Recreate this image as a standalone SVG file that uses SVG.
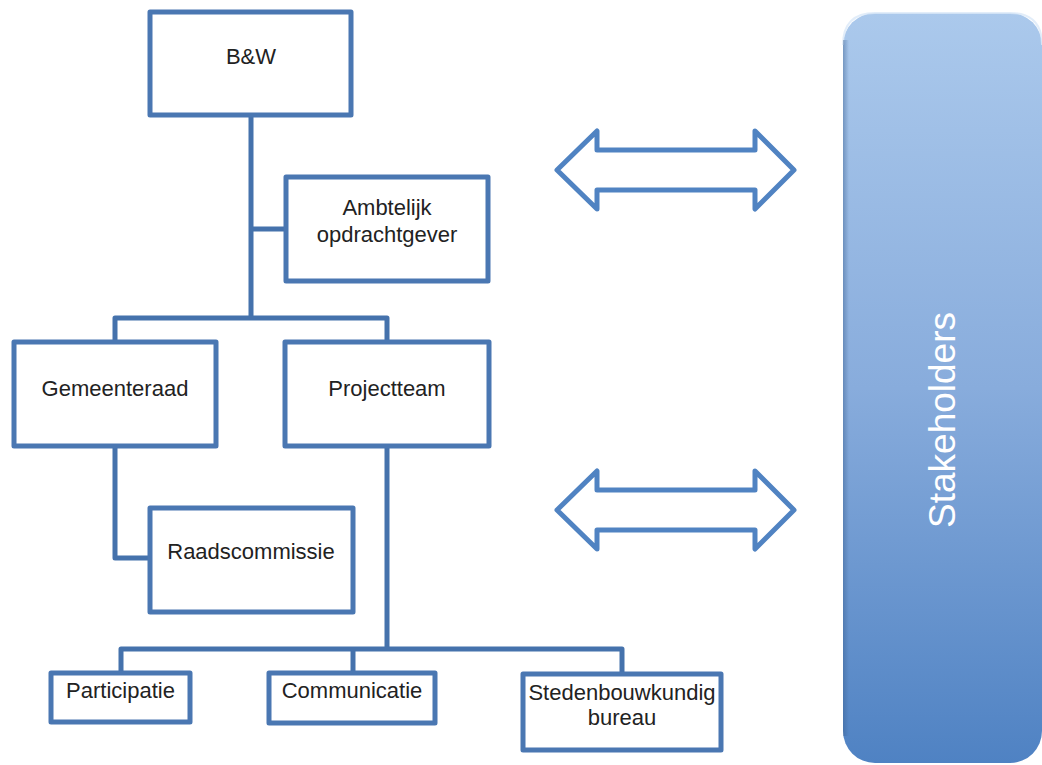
<svg xmlns="http://www.w3.org/2000/svg" width="1042" height="765" viewBox="0 0 1042 765">
<defs>
<linearGradient id="stakeGrad" x1="0" y1="0" x2="0" y2="1">
<stop offset="0" stop-color="#abc9ec"/>
<stop offset="0.5" stop-color="#88acdc"/>
<stop offset="1" stop-color="#4f82c3"/>
</linearGradient>
<linearGradient id="edgeGrad" x1="0" y1="0" x2="1" y2="0">
<stop offset="0" stop-color="#3a5f8f" stop-opacity="0.45"/>
<stop offset="1" stop-color="#3a5f8f" stop-opacity="0"/>
</linearGradient>
<style>
.box{fill:#ffffff;stroke:#4a77b2;stroke-width:5;stroke-linejoin:round}
.lbl{font-family:"Liberation Sans",Arial,sans-serif;font-size:22px;fill:#222222;text-anchor:middle}
.conn{fill:none;stroke:#4572ac;stroke-width:5;stroke-linejoin:round;stroke-linecap:butt}
.arrow{fill:#ffffff;stroke:#5083c2;stroke-width:5;stroke-linejoin:round}
</style>
</defs>
<rect width="1042" height="765" fill="#ffffff"/>

<g id="connectors">
<path class="conn" d="M251,115 V318"/>
<path class="conn" d="M251,229 H286"/>
<path class="conn" d="M115,342 V318 H387 V342"/>
<path class="conn" d="M115,446 V558 H150"/>
<path class="conn" d="M387,446 V649"/>
<path class="conn" d="M121,673 V649 H622 V674"/>
<path class="conn" d="M353,649 V673"/>
</g>

<g id="node-bw">
<rect class="box" x="150" y="12" width="201" height="103"/>
<text class="lbl" x="251" y="64">B&amp;W</text>
</g>
<g id="node-ambtelijk">
<rect class="box" x="286" y="177" width="202" height="104"/>
<text class="lbl" x="387" y="215">Ambtelijk</text>
<text class="lbl" x="387" y="242">opdrachtgever</text>
</g>
<g id="node-gemeenteraad">
<rect class="box" x="14" y="342" width="202" height="104"/>
<text class="lbl" x="115" y="396">Gemeenteraad</text>
</g>
<g id="node-projectteam">
<rect class="box" x="285" y="342" width="204" height="104"/>
<text class="lbl" x="387" y="396">Projectteam</text>
</g>
<g id="node-raadscommissie">
<rect class="box" x="150" y="508" width="203" height="104"/>
<text class="lbl" x="251" y="559">Raadscommissie</text>
</g>
<g id="node-participatie">
<rect class="box" x="51" y="673" width="139" height="49"/>
<text class="lbl" x="120.5" y="698">Participatie</text>
</g>
<g id="node-communicatie">
<rect class="box" x="269" y="673" width="166" height="50"/>
<text class="lbl" x="352" y="698">Communicatie</text>
</g>
<g id="node-stedenbouwkundig">
<rect class="box" x="523" y="674" width="198" height="76"/>
<text class="lbl" x="622" y="700">Stedenbouwkundig</text>
<text class="lbl" x="622" y="725">bureau</text>
</g>

<g id="arrow-top">
<path class="arrow" d="M557,170 L597,131 V150 H755 V131 L794,170 L755,209 V190 H597 V209 Z"/>
</g>
<g id="arrow-bottom">
<path class="arrow" d="M557,510 L597,471 V490 H755 V471 L794,510 L755,549 V530 H597 V549 Z"/>
</g>

<g id="node-stakeholders">
<rect x="843" y="13" width="199" height="750" rx="32" ry="32" fill="url(#stakeGrad)"/>
<path d="M843,45 Q843,13 875,13 H1010 Q1042,13 1042,45" fill="none" stroke="#dbe8f7" stroke-width="2" opacity="0.8"/>
<rect x="843" y="40" width="6" height="696" fill="url(#edgeGrad)"/>
<text transform="translate(955,420) rotate(-90)" x="0" y="0" font-family="Liberation Sans, Arial, sans-serif" font-size="37" fill="#ffffff" text-anchor="middle">Stakeholders</text>
</g>
</svg>
